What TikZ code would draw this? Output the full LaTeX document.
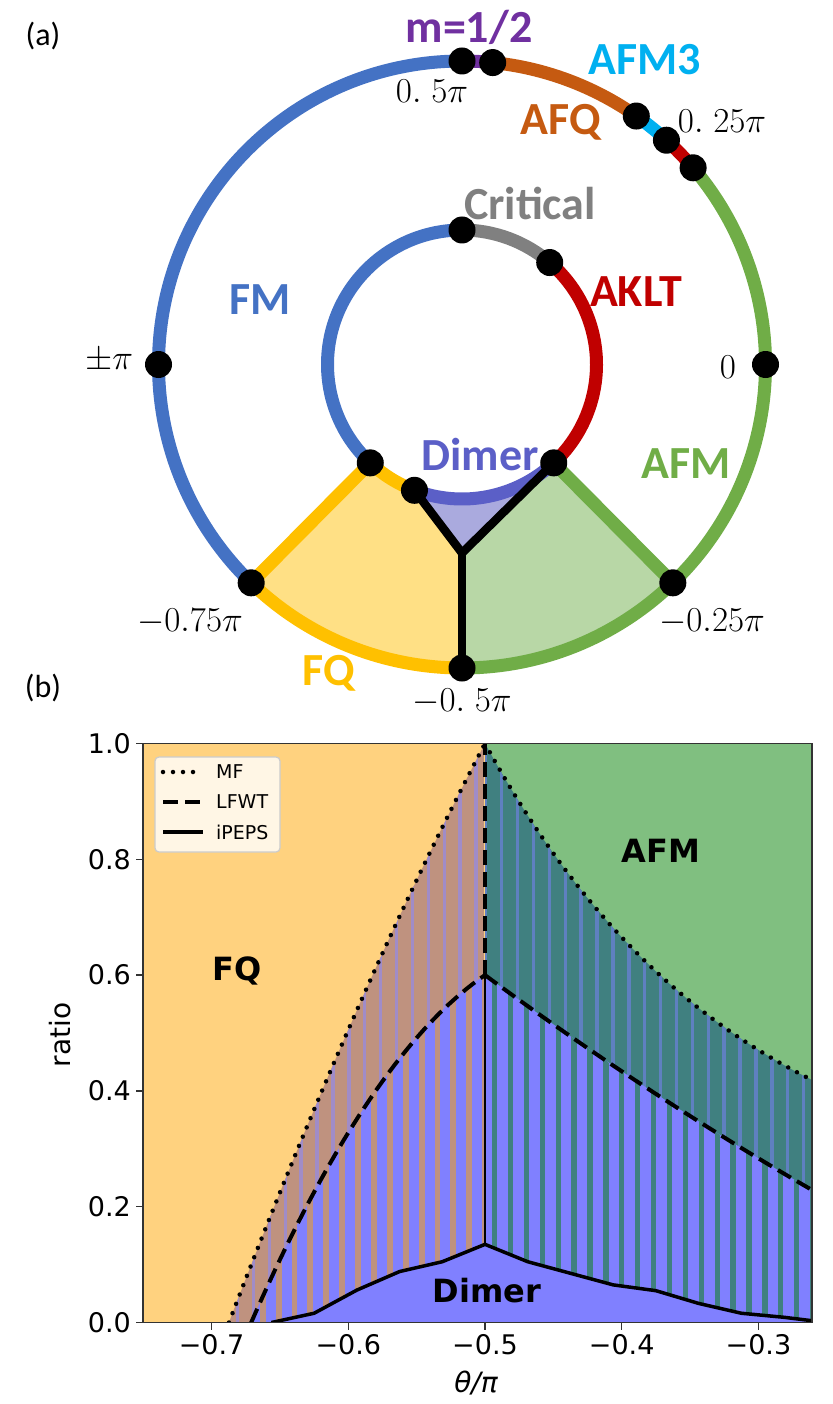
\RequirePackage{fix-cm}
\documentclass[tikz,border=0pt]{standalone}
\usepackage{fontspec}
\newfontfamily\carl{Carlito}
\newfontfamily\djv{DejaVu Sans}
\definecolor{cBlue}{HTML}{4472C4}
\definecolor{cOrange}{HTML}{C55A11}
\definecolor{cCyan}{HTML}{00B0F0}
\definecolor{cRed}{HTML}{C00000}
\definecolor{cGreen}{HTML}{70AD47}
\definecolor{cYellow}{HTML}{FFC000}
\definecolor{cPurple}{HTML}{7030A0}
\definecolor{cGray}{HTML}{808080}
\definecolor{cDimer}{HTML}{5B5FC7}
\definecolor{fYellow}{HTML}{FFE085}
\definecolor{fGreen}{HTML}{B8D7A6}
\definecolor{fDimer}{HTML}{AAAADE}
\definecolor{pFQ}{HTML}{FFD27F}
\definecolor{pAFM}{HTML}{80BF80}
\definecolor{pDim}{HTML}{8080FF}
\definecolor{pBrown}{HTML}{BF927F}
\definecolor{pTeal}{HTML}{408080}
\definecolor{pLav}{HTML}{A08CC8}
\definecolor{pBlueT}{HTML}{5F80C0}
\definecolor{legFill}{HTML}{FFF6E5}
\definecolor{legEdge}{HTML}{CCCCCC}
\tikzset{
  MFL/.style={insert path={-- plot[domain=-0.1873:0,samples=40] ({\x-0.5},{1+4.493*\x-4.515*\x*\x})}},
  MFR/.style={insert path={-- plot[domain=0:0.2392,samples=40] ({\x-0.5},{0.2+0.8*exp(-5.42*\x)})}},
  LWL/.style={insert path={-- plot[domain=-0.171:0,samples=40] ({\x-0.5},{0.6+1.615*\x-11.07*\x*\x})}},
  LWR/.style={insert path={-- plot[domain=0:0.2392,samples=40] ({\x-0.5},{0.6-1.74*\x+0.788*\x*\x})}},
  IPL/.style={insert path={(-0.65625,0) -- (-0.625,0.016) -- (-0.59375,0.056) -- (-0.5625,0.088) -- (-0.53125,0.105) -- (-0.5,0.135) -- (-0.46875,0.105) -- (-0.4375,0.085) -- (-0.40625,0.065) -- (-0.375,0.055) -- (-0.34375,0.033) -- (-0.3125,0.016) -- (-0.28125,0.009) -- (-0.25,0.0)}},
}
\begin{document}
\begin{tikzpicture}[x=1pt,y=1pt,
  dot/.style={circle,fill=black,minimum size=27pt,inner sep=0pt},
  lab/.style={font=\carl\bfseries\fontsize{46}{50}\selectfont, anchor=base, inner sep=0pt},
  mlab/.style={font=\fontsize{35}{40}\selectfont, inner sep=0pt},
  arcw/.style={line width=13pt},
  blk/.style={line width=8.5pt, black, line cap=round},
  tickl/.style={font=\djv\fontsize{27}{30}\selectfont, inner sep=0pt},
  legt/.style={font=\djv\fontsize{19}{22}\selectfont, inner sep=0pt, anchor=west},
  mfline/.style={line width=4.5pt, dash pattern=on 0pt off 10pt, line cap=round},
  lwline/.style={line width=4pt, dash pattern=on 15pt off 7pt},
  ipline/.style={line width=3.5pt, line join=round},
  plab/.style={font=\djv\bfseries\fontsize{32}{36}\selectfont, anchor=base, inner sep=0pt},
  axl/.style={line width=1.3pt, black!80},
]
\useasboundingbox (0,0) rectangle (832,-1404);
% ---------------- (a) ----------------
\def\Ro{303.5}
\def\Ri{134.5}
\coordinate (O) at (462,-364.5);
\coordinate (J) at (462,-553);
\foreach \n/\a in {o90/90, o84/84.2, o55/54.95, o48/47.65, o40/40.4, o0/0, o180/180, om134/-134, om46/-46, om90/-90}
  \coordinate (\n) at ([shift={(\a:\Ro)}]O);
\foreach \n/\a in {i90/90, i49/49.3, im47/-47, im110/-110.7, im133/-133}
  \coordinate (\n) at ([shift={(\a:\Ri)}]O);
% fills
\fill[fYellow] (om134) arc[start angle=-134,end angle=-90,radius=\Ro] -- (J) -- (im110) arc[start angle=-110.7,end angle=-133,radius=\Ri] -- cycle;
\fill[fGreen] (J) -- (im47) -- (om46) arc[start angle=-46,end angle=-90,radius=\Ro] -- cycle;
\fill[fDimer] (J) -- (im110) arc[start angle=-110.7,end angle=-47,radius=\Ri] -- cycle;
% outer arcs
\draw[arcw,cBlue] (o90) arc[start angle=90,end angle=226,radius=\Ro];
\draw[arcw,cYellow] (om134) arc[start angle=-134,end angle=-90,radius=\Ro];
\draw[arcw,cGreen] (om90) arc[start angle=-90,end angle=40.4,radius=\Ro];
\draw[arcw,cRed] (o40) arc[start angle=40.4,end angle=47.65,radius=\Ro];
\draw[arcw,cCyan] (o48) arc[start angle=47.65,end angle=54.95,radius=\Ro];
\draw[arcw,cOrange] (o55) arc[start angle=54.95,end angle=84.2,radius=\Ro];
\draw[arcw,cPurple] (o84) arc[start angle=84.2,end angle=90,radius=\Ro];
% inner arcs
\draw[arcw,cBlue] (i90) arc[start angle=90,end angle=227,radius=\Ri];
\draw[arcw,cYellow] (im133) arc[start angle=-133,end angle=-110.7,radius=\Ri];
\draw[arcw,cDimer] (im110) arc[start angle=-110.7,end angle=-47,radius=\Ri];
\draw[arcw,cRed] (im47) arc[start angle=-47,end angle=49.3,radius=\Ri];
\draw[arcw,cGray] (i49) arc[start angle=49.3,end angle=90,radius=\Ri];
% radial lines
\draw[arcw,cYellow] (om134) -- (im133);
\draw[arcw,cGreen] (om46) -- (im47);
\draw[blk] (J) -- (im110);
\draw[blk] (J) -- (im47);
\draw[blk] (J) -- (om90);
% dots
\foreach \n in {o90,o84,o55,o48,o40,o0,o180,om134,om46,om90,i90,i49,im47,im110,im133}
  \node[dot] (d\n) at (\n) {};
% labels
\node[font=\carl\fontsize{32}{36}\selectfont, inner sep=0pt] (la) at (43,-36) {(a)};
\node[lab,text=cPurple] (lm) at (469,-43) {m=1/2};
\node[lab,text=cCyan] (lafm3) at (645,-75) {AFM3};
\node[lab,text=cOrange] (lafq) at (561,-135) {AFQ};
\node[lab,text=cGray] (lcrit) at (530,-220) {Critical};
\node[lab,text=cRed] (laklt) at (636,-306) {AKLT};
\node[lab,text=cBlue] (lfm) at (260,-315) {FM};
\node[lab,text=cDimer] (ldim) at (480,-470) {Dimer};
\node[lab,text=cGreen] (lafm) at (686,-478) {AFM};
\node[lab,text=cYellow] (lfq) at (329,-685) {FQ};
\node[mlab] (t05) at (432,-91) {$0.\;5\pi$};
\node[mlab] (t025) at (722,-121) {$0.\;25\pi$};
\node[mlab] (tpi) at (109,-361) {$\pm\pi$};
\node[mlab] (t0) at (728,-367) {$0$};
\node[mlab] (tm075) at (190,-622) {$-0.75\pi$};
\node[mlab] (tm025) at (712,-622) {$-0.25\pi$};
\node[mlab] (tm05) at (462,-702) {$-0.\;5\pi$};
% ---------------- (b) ----------------
\node[font=\carl\fontsize{32}{36}\selectfont, inner sep=0pt] (lb) at (43,-688) {(b)};
\def\pp{0.011631}
\def\sL{-0.76942}
\def\sR{-0.50651}
\begin{scope}[shift={(1168.5pt,-1322.5pt)}, x=1367pt, y=579pt]
  \clip (-0.75,0) rectangle (-0.2608,1);
  \fill[pFQ] (-0.75,0) rectangle (-0.5,1);
  \fill[pAFM] (-0.5,0) rectangle (-0.2608,1);
  % level 2 left
  \begin{scope}
    \clip (-0.6873,0) [MFL] -- (-0.5,0) -- cycle;
    \fill[pBrown] (-0.75,0) rectangle (-0.5,1);
    \foreach \k in {0,...,23} \fill[pLav] ({\sL+0.0058+\k*\pp},0) rectangle ++(0.0025,1);
  \end{scope}
  % level 2 right
  \begin{scope}
    \clip (-0.5,0) [MFR] -- (-0.2608,0) -- cycle;
    \fill[pTeal] (-0.5,0) rectangle (-0.26,1);
    \foreach \k in {0,...,22} \fill[pBlueT] ({\sR+0.0058+\k*\pp},0) rectangle ++(0.0025,1);
  \end{scope}
  % level 3 left
  \begin{scope}
    \clip (-0.671,0) [LWL] -- (-0.5,0) -- cycle;
    \fill[pDim] (-0.75,0) rectangle (-0.5,1);
    \foreach \k in {0,...,23} \fill[pBrown] ({\sL+\k*\pp},0) rectangle ++(0.0043,1);
  \end{scope}
  % level 3 right
  \begin{scope}
    \clip (-0.5,0) [LWR] -- (-0.2608,0) -- cycle;
    \fill[pDim] (-0.5,0) rectangle (-0.26,1);
    \foreach \k in {0,...,22} \fill[pTeal] ({\sR+\k*\pp},0) rectangle ++(0.0039,1);
  \end{scope}
  % dimer
  \fill[pDim] [IPL] -- cycle;
  % boundary lines
  \draw[line width=2.5pt] (-0.5,0.135) -- (-0.5,0.6);
  \draw[lwline] (-0.5,0.6) -- (-0.5,1);
  \draw[mfline] (-0.6873,0) [MFL];
  \draw[mfline] (-0.5,1) [MFR];
  \draw[lwline] (-0.671,0) [LWL];
  \draw[lwline] (-0.5,0.6) [LWR];
  \draw[ipline] [IPL];
\end{scope}
% axes frame
\draw[axl] (143,-743.5) rectangle (812,-1322.5);
\foreach \t/\X in {−0.7/211.6, −0.6/348.3, −0.5/485, −0.4/621.7, −0.3/758.4} {
  \draw[axl] (\X,-1322.5) -- (\X,-1330);
  \node[tickl, anchor=north] at (\X,-1334) {\t};
}
\foreach \t/\Y in {0.0/1322.5, 0.2/1206.7, 0.4/1090.9, 0.6/975.1, 0.8/859.3, 1.0/743.5} {
  \draw[axl] (143,-\Y) -- (136,-\Y);
  \node[tickl, anchor=east] at (131,-\Y) {\t};
}
\node[font=\djv\itshape\fontsize{28}{30}\selectfont, inner sep=0pt] (xlab) at (476,-1383) {θ/π};
\node[font=\djv\fontsize{28}{30}\selectfont, inner sep=0pt, rotate=90] (ylab) at (60,-1035) {ratio};
\node[plab] (pfq) at (237,-980) {FQ};
\node[plab] (pafm) at (661,-862) {AFM};
\node[plab] (pdim) at (487,-1302) {Dimer};
% legend
\node[draw=legEdge, fill=legFill, line width=1.2pt, rounded corners=4pt, minimum width=125pt, minimum height=95pt, inner sep=0pt] (leg) at (217.5,-804.5) {};
\coordinate (l1a) at (163,-772); \coordinate (l1b) at (203,-772);
\coordinate (l2a) at (163,-802); \coordinate (l2b) at (203,-802);
\coordinate (l3a) at (163,-832); \coordinate (l3b) at (203,-832);
\draw[mfline] (l1a) -- (l1b);
\draw[lwline] (l2a) -- (l2b);
\draw[ipline] (l3a) -- (l3b);
\node[legt] (lg1) at (216,-772) {MF};
\node[legt] (lg2) at (216,-802) {LFWT};
\node[legt] (lg3) at (216,-832) {iPEPS};
\end{tikzpicture}
\end{document}
